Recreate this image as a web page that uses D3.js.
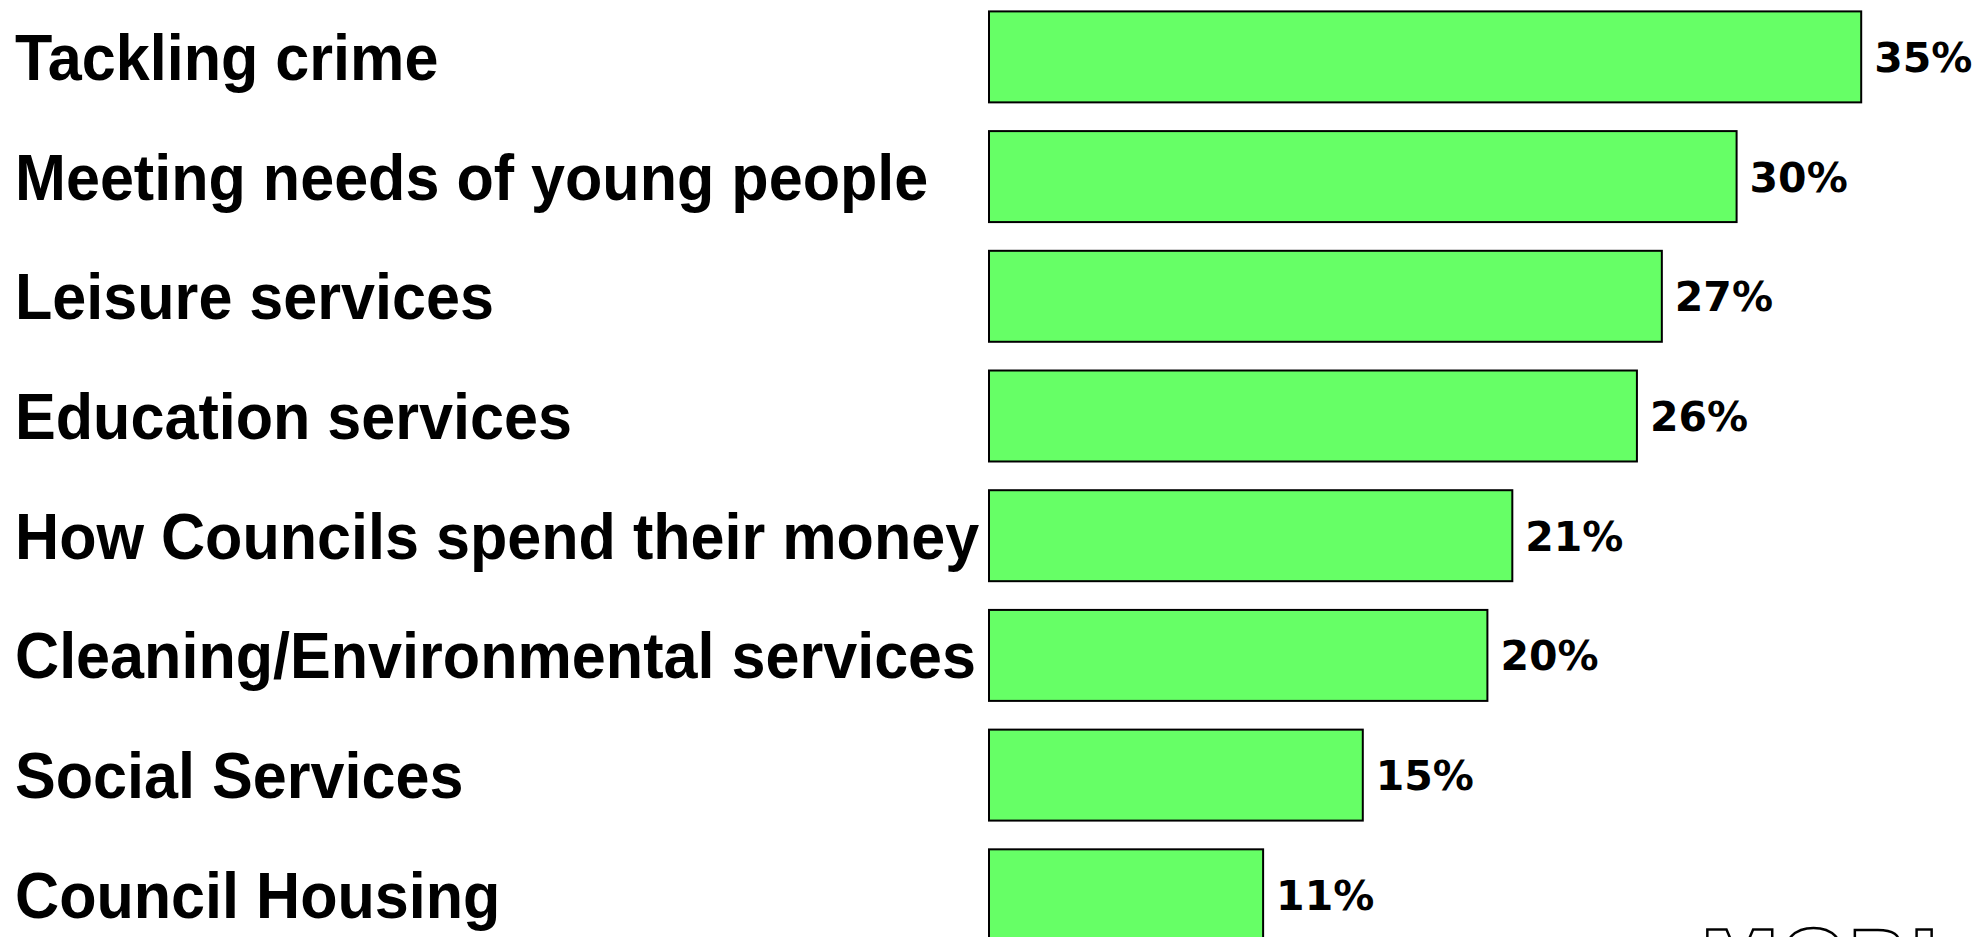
<!DOCTYPE html>
<html>
<head>
<meta charset="utf-8">
<script src="https://cdn.jsdelivr.net/npm/d3@7"></script>
<style>
  html, body { margin: 0; padding: 0; background: #ffffff; overflow: hidden; }
  svg { display: block; }
</style>
</head>
<body>
<svg id="chart" width="1978" height="937"></svg>
<script>
// Share of respondents naming each service area
const categories = [
  "Tackling crime",
  "Meeting needs of young people",
  "Leisure services",
  "Education services",
  "How Councils spend their money",
  "Cleaning/Environmental services",
  "Social Services",
  "Council Housing"
];
const values = [35, 30, 27, 26, 21, 20, 15, 11];
const valueLabels = ["35%", "30%", "27%", "26%", "21%", "20%", "15%", "11%"];

const svg = d3.select("#chart");

const barLeft = 989;
const x = d3.scaleLinear().domain([0, 40]).range([barLeft, barLeft + 996.8]);

const y = d3.scaleBand()
  .domain(categories)
  .range([11.4, 940.3])
  .paddingInner(0.24)
  .paddingOuter(0);

// Bars
svg.append("g")
  .selectAll("rect")
  .data(values)
  .join("rect")
  .attr("x", x(0))
  .attr("y", (d, i) => y(categories[i]))
  .attr("width", d => x(d) - x(0))
  .attr("height", y.bandwidth())
  .attr("fill", "#66ff66")
  .attr("stroke", "#000000")
  .attr("stroke-width", 2);

// Category labels
const labelSize = 64;
svg.append("g")
  .selectAll("text")
  .data(categories)
  .join("text")
  .attr("transform", d => `translate(15,${y(d) + y.bandwidth() / 2 + labelSize * 0.358}) scale(0.955,1)`)
  .attr("font-family", "'Liberation Sans', Arial, sans-serif")
  .attr("font-weight", "bold")
  .attr("font-size", labelSize)
  .attr("fill", "#000000")
  .text(d => d);

// Value labels
svg.append("g")
  .selectAll("text")
  .data(values)
  .join("text")
  .attr("x", d => x(d) + 13)
  .attr("y", (d, i) => y(categories[i]) + y.bandwidth() / 2 + 15)
  .attr("font-family", "'DejaVu Sans', Verdana, sans-serif")
  .attr("font-weight", "bold")
  .attr("font-size", 41)
  .attr("fill", "#000000")
  .text((d, i) => valueLabels[i]);

// Logo mark along the bottom edge
svg.append("text")
  .attr("x", 1700)
  .attr("y", 988)
  .attr("font-family", "'DejaVu Sans', Verdana, sans-serif")
  .attr("font-weight", "bold")
  .attr("font-size", 80)
  .attr("fill", "#ffffff")
  .attr("stroke", "#000000")
  .attr("stroke-width", 2.5)
  .text("MORI");
</script>
</body>
</html>
